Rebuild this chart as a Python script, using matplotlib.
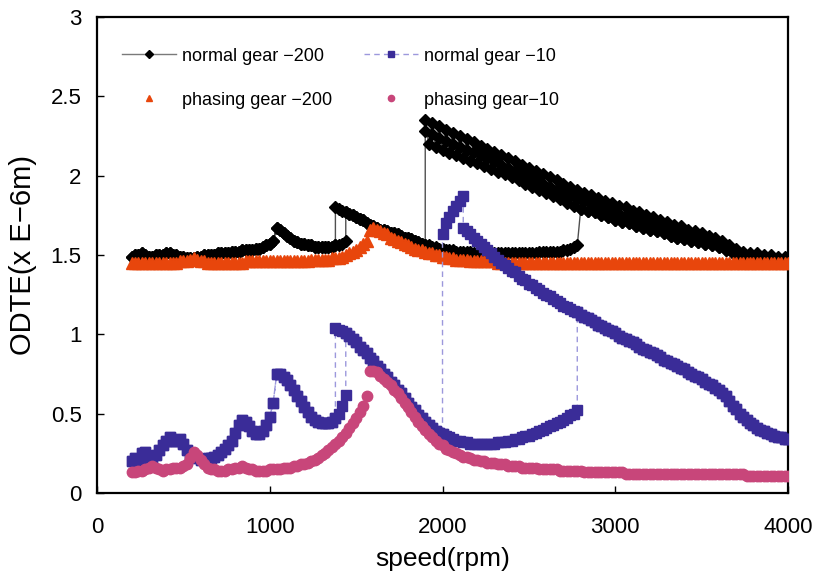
import numpy as np
import matplotlib
matplotlib.use('Agg')
import matplotlib.pyplot as plt

plt.rcParams['font.family'] = ['Liberation Sans', 'DejaVu Sans']

# speed grid (rpm), 20 rpm step
speed = np.arange(200, 4001, 20)

# phasing gear -200 (orange triangles)
phasing_200 = [
    1.45, 1.45, 1.45, 1.45, 1.45,  1.45, 1.45, 1.45, 1.45, 1.45,
    1.45, 1.45, 1.45, 1.45, 1.46,  1.46, 1.46, 1.47, 1.48, 1.47,
    1.46, 1.46, 1.45, 1.45, 1.45,  1.45, 1.45, 1.45, 1.45, 1.45,
    1.45, 1.45, 1.45, 1.46, 1.46,  1.46, 1.46, 1.46, 1.46, 1.46,
    1.46, 1.46, 1.46, 1.46, 1.46,  1.46, 1.46, 1.46, 1.46, 1.46,
    1.46, 1.46, 1.47, 1.47, 1.47,  1.47, 1.47, 1.47, 1.48, 1.48,
    1.48, 1.49, 1.50, 1.51, 1.52,  1.53, 1.55, 1.57, 1.59, 1.66,
    1.67, 1.66, 1.65, 1.64, 1.63,  1.61, 1.60, 1.59, 1.58, 1.57,
    1.56, 1.55, 1.54, 1.53, 1.53,  1.52, 1.51, 1.51, 1.50, 1.50,
    1.49, 1.49, 1.48, 1.48, 1.47,  1.47, 1.47, 1.47, 1.46, 1.46,
    1.46, 1.46, 1.46, 1.46, 1.46,  1.46, 1.45, 1.45, 1.45, 1.45,
    1.45, 1.45, 1.45, 1.45, 1.45,  1.45, 1.45, 1.45, 1.45, 1.45,
    1.45, 1.45, 1.45, 1.45, 1.45,  1.45, 1.45, 1.45, 1.45, 1.45,
    1.45, 1.45, 1.45, 1.45, 1.45,  1.45, 1.45, 1.45, 1.45, 1.45,
    1.45, 1.45, 1.45, 1.45, 1.45,  1.45, 1.45, 1.45, 1.45, 1.45,
    1.45, 1.45, 1.45, 1.45, 1.45,  1.45, 1.45, 1.45, 1.45, 1.45,
    1.45, 1.45, 1.45, 1.45, 1.45,  1.45, 1.45, 1.45, 1.45, 1.45,
    1.45, 1.45, 1.45, 1.45, 1.45,  1.45, 1.45, 1.45, 1.45, 1.45,
    1.45, 1.45, 1.45, 1.45, 1.45,  1.45, 1.45, 1.45, 1.45, 1.45,
    1.45,
]

# phasing gear-10 (pink dots)
phasing_10 = [
    0.13, 0.13, 0.14, 0.14, 0.15,  0.16, 0.17, 0.16, 0.15, 0.14,
    0.15, 0.15, 0.16, 0.16, 0.16,  0.17, 0.18, 0.22, 0.26, 0.24,
    0.21, 0.18, 0.16, 0.15, 0.15,  0.14, 0.14, 0.14, 0.15, 0.15,
    0.16, 0.16, 0.17, 0.16, 0.15,  0.15, 0.14, 0.14, 0.14, 0.14,
    0.15, 0.15, 0.15, 0.15, 0.16,  0.16, 0.16, 0.17, 0.17, 0.18,
    0.18, 0.19, 0.20, 0.21, 0.22,  0.24, 0.25, 0.27, 0.29, 0.31,
    0.33, 0.35, 0.38, 0.41, 0.44,  0.47, 0.51, 0.55, 0.61, 0.77,
    0.77, 0.76, 0.74, 0.72, 0.70,  0.68, 0.65, 0.63, 0.60, 0.57,
    0.54, 0.51, 0.48, 0.45, 0.42,  0.40, 0.37, 0.35, 0.33, 0.31,
    0.30, 0.28, 0.27, 0.26, 0.25,  0.24, 0.23, 0.23, 0.22, 0.21,
    0.21, 0.20, 0.20, 0.19, 0.19,  0.19, 0.18, 0.18, 0.18, 0.17,
    0.17, 0.17, 0.17, 0.16, 0.16,  0.16, 0.16, 0.16, 0.15, 0.15,
    0.15, 0.15, 0.15, 0.15, 0.14,  0.14, 0.14, 0.14, 0.14, 0.14,
    0.14, 0.13, 0.13, 0.13, 0.13,  0.13, 0.13, 0.13, 0.13, 0.13,
    0.13, 0.13, 0.13, 0.12, 0.12,  0.12, 0.12, 0.12, 0.12, 0.12,
    0.12, 0.12, 0.12, 0.12, 0.12,  0.12, 0.12, 0.12, 0.12, 0.12,
    0.12, 0.12, 0.12, 0.12, 0.12,  0.12, 0.12, 0.12, 0.12, 0.12,
    0.12, 0.12, 0.12, 0.12, 0.12,  0.12, 0.12, 0.12, 0.11, 0.11,
    0.11, 0.11, 0.11, 0.11, 0.11,  0.11, 0.11, 0.11, 0.11, 0.11,
    0.11,
]

# normal gear -10 (blue squares), four branches
blue_a_x = np.arange(200, 1441, 20)
blue_a = [
    0.20, 0.22, 0.21, 0.25, 0.26,  0.22, 0.21, 0.24, 0.27, 0.30,
    0.33, 0.35, 0.33, 0.33, 0.34,  0.31, 0.27, 0.24, 0.23, 0.22,
    0.21, 0.21, 0.22, 0.22, 0.23,  0.24, 0.26, 0.28, 0.30, 0.33,
    0.38, 0.43, 0.46, 0.45, 0.42,  0.39, 0.37, 0.37, 0.39, 0.43,
    0.48, 0.57, 0.75, 0.75, 0.73,  0.71, 0.68, 0.65, 0.61, 0.58,
    0.54, 0.51, 0.48, 0.46, 0.45,  0.44, 0.44, 0.44, 0.45, 0.47,
    0.50, 0.55, 0.62,
]
blue_b_x = np.arange(1380, 2781, 20)
blue_b = [
    1.04, 1.03, 1.02, 1.01, 0.99,  0.97, 0.95, 0.92, 0.90, 0.88,
    0.85, 0.83, 0.80, 0.78, 0.75,  0.73, 0.70, 0.68, 0.65, 0.63,
    0.60, 0.57, 0.54, 0.52, 0.49,  0.47, 0.45, 0.43, 0.41, 0.39,
    0.38, 0.37, 0.36, 0.35, 0.34,  0.33, 0.33, 0.32, 0.32, 0.31,
    0.31, 0.31, 0.31, 0.31, 0.31,  0.31, 0.31, 0.32, 0.32, 0.32,
    0.33, 0.33, 0.34, 0.34, 0.35,  0.36, 0.36, 0.37, 0.38, 0.39,
    0.40, 0.41, 0.42, 0.43, 0.44,  0.45, 0.46, 0.47, 0.49, 0.50,
    0.52,
]
blue_c_x = np.arange(2120, 4001, 20)
blue_c = [
    1.67, 1.65, 1.63, 1.61, 1.59,  1.57, 1.55, 1.53, 1.51, 1.49,
    1.47, 1.45, 1.44, 1.42, 1.40,  1.39, 1.37, 1.35, 1.34, 1.32,
    1.31, 1.29, 1.28, 1.26, 1.25,  1.24, 1.22, 1.21, 1.20, 1.18,
    1.17, 1.16, 1.15, 1.14, 1.12,  1.11, 1.10, 1.09, 1.08, 1.06,
    1.05, 1.04, 1.03, 1.02, 1.01,  0.99, 0.98, 0.97, 0.96, 0.95,
    0.94, 0.92, 0.91, 0.90, 0.89,  0.88, 0.87, 0.86, 0.84, 0.83,
    0.82, 0.81, 0.80, 0.79, 0.78,  0.76, 0.75, 0.74, 0.73, 0.72,
    0.70, 0.69, 0.68, 0.66, 0.65,  0.63, 0.61, 0.58, 0.55, 0.53,
    0.50, 0.48, 0.46, 0.44, 0.43,  0.41, 0.40, 0.39, 0.38, 0.37,
    0.36, 0.35, 0.35, 0.34, 0.34,
]
blue_d_x = np.arange(2000, 2121, 20)
blue_d = [1.63, 1.70, 1.74, 1.78, 1.81, 1.84, 1.87]

# normal gear -200 (black diamonds)
black_low_x = np.arange(200, 1441, 20)
black_low = [
    1.49, 1.50, 1.50, 1.51, 1.50,  1.49, 1.49, 1.50, 1.50, 1.50,
    1.51, 1.51, 1.50, 1.50, 1.49,  1.49, 1.48, 1.48, 1.48, 1.49,
    1.49, 1.50, 1.50, 1.50, 1.50,  1.51, 1.51, 1.51, 1.51, 1.52,
    1.52, 1.52, 1.53, 1.53, 1.53,  1.53, 1.54, 1.54, 1.55, 1.56,
    1.57, 1.59, 1.67, 1.66, 1.64,  1.62, 1.61, 1.59, 1.58, 1.57,
    1.57, 1.56, 1.56, 1.55, 1.55,  1.55, 1.55, 1.55, 1.55, 1.56,
    1.56, 1.57, 1.59,
]
black_mid_x = np.arange(1380, 2781, 20)
black_mid = [
    1.80, 1.79, 1.78, 1.77, 1.76,  1.75, 1.74, 1.73, 1.72, 1.70,
    1.69, 1.68, 1.67, 1.66, 1.66,  1.65, 1.64, 1.64, 1.63, 1.62,
    1.61, 1.61, 1.60, 1.59, 1.58,  1.57, 1.56, 1.56, 1.55, 1.55,
    1.54, 1.54, 1.53, 1.53, 1.53,  1.52, 1.52, 1.52, 1.52, 1.52,
    1.51, 1.51, 1.51, 1.51, 1.51,  1.51, 1.51, 1.51, 1.51, 1.51,
    1.51, 1.51, 1.51, 1.51, 1.51,  1.51, 1.51, 1.51, 1.51, 1.52,
    1.52, 1.52, 1.52, 1.52, 1.52,  1.52, 1.53, 1.53, 1.54, 1.55,
    1.56,
]
# upper scattered band: alternating high / low points plus a middle row
band_top_x = np.arange(1900, 3981, 40)
band_top = [
    2.35, 2.33, 2.31, 2.29, 2.27, 2.25, 2.23, 2.21, 2.19, 2.17,
    2.15, 2.13, 2.11, 2.09, 2.07, 2.05, 2.03, 2.01, 1.99, 1.97,
    1.95, 1.93, 1.91, 1.89, 1.88, 1.86, 1.84, 1.83, 1.81, 1.80,
    1.78, 1.77, 1.75, 1.74, 1.72, 1.71, 1.69, 1.68, 1.66, 1.65,
    1.64, 1.62, 1.61, 1.59, 1.56, 1.54, 1.52, 1.51, 1.51, 1.50,
    1.50, 1.49, 1.49,
]
band_mid = [
    2.28, 2.26, 2.24, 2.22, 2.20, 2.18, 2.16, 2.15, 2.13, 2.11,
    2.09, 2.07, 2.05, 2.03, 2.01, 1.99, 1.97, 1.95, 1.93, 1.91,
    1.89, 1.87, 1.85, 1.84, 1.83, 1.81, 1.79, 1.78, 1.76, 1.75,
    1.73, 1.72, 1.71, 1.70, 1.68, 1.67, 1.65, 1.64, 1.63, 1.62,
    1.61, 1.59, 1.58, 1.56, 1.54, 1.52, 1.51, 1.50, 1.50, 1.49,
    1.49, 1.48, 1.48,
]
band_bot_x = np.arange(1920, 4001, 40)
band_bot = [
    2.20, 2.18, 2.16, 2.14, 2.13, 2.11, 2.09, 2.08, 2.06, 2.04,
    2.02, 2.01, 1.99, 1.97, 1.95, 1.93, 1.91, 1.89, 1.87, 1.85,
    1.83, 1.81, 1.79, 1.78, 1.77, 1.75, 1.74, 1.72, 1.71, 1.70,
    1.68, 1.67, 1.66, 1.65, 1.64, 1.62, 1.61, 1.60, 1.59, 1.58,
    1.57, 1.56, 1.55, 1.53, 1.51, 1.50, 1.49, 1.48, 1.48, 1.47,
    1.47, 1.47, 1.47,
]

labels = ['normal gear \u2212200', 'normal gear \u221210',
          'phasing gear \u2212200', 'phasing gear\u221210']

# --- build sweep paths (run-up then run-down) ---
ba, bb, bc, bd = map(np.array, (blue_a, blue_b, blue_c, blue_d))
blue_x = np.concatenate([blue_a_x, blue_b_x[blue_b_x >= 1440], blue_c_x[blue_c_x >= 2780],
                         blue_c_x[::-1], blue_d_x[::-1],
                         blue_b_x[blue_b_x <= 2000][::-1], blue_a_x[blue_a_x <= 1380][::-1]])
blue_y = np.concatenate([ba, bb[blue_b_x >= 1440], bc[blue_c_x >= 2780],
                         bc[::-1], bd[::-1],
                         bb[blue_b_x <= 2000][::-1], ba[blue_a_x <= 1380][::-1]])

kl, km, kt, kb = map(np.array, (black_low, black_mid, band_top, band_bot))
zx = np.concatenate([band_top_x, band_bot_x])
zy = np.concatenate([kt, kb])
order = np.argsort(zx)
zx, zy = zx[order], zy[order]
black_x = np.concatenate([black_low_x, black_mid_x[black_mid_x >= 1440], band_bot_x[band_bot_x >= 2800],
                          zx[::-1], black_mid_x[black_mid_x <= 1900][::-1], black_low_x[black_low_x <= 1380][::-1]])
black_y = np.concatenate([kl, km[black_mid_x >= 1440], kb[band_bot_x >= 2800],
                          zy[::-1], km[black_mid_x <= 1900][::-1], kl[black_low_x <= 1380][::-1]])

fig = plt.figure(figsize=(8.13, 5.74), dpi=100)
ax = fig.add_axes([0.1193, 0.1411, 0.85, 0.8293])

h1, = ax.plot(black_x, black_y, color='#505050', lw=1.0, marker='D', ms=6.5,
              mfc='black', mec='black', zorder=2)
ax.plot(band_top_x, band_mid, ls='none', marker='D', ms=6.5,
        mfc='black', mec='black', zorder=2)
h3, = ax.plot(speed, phasing_200, ls='none', marker='^', ms=8,
              mfc='#e8460c', mec='#e8460c', zorder=3)
h2, = ax.plot(blue_x, blue_y, color='#9c98dc', lw=1, ls=(0, (4, 3)), marker='s', ms=7,
              mfc='#3a2c98', mec='#3a2c98', zorder=4)
h4, = ax.plot(speed, phasing_10, ls='none', marker='o', ms=7.5,
              mfc='#c8467a', mec='#c8467a', zorder=5)

leg = ax.legend([h1, h3, h2, h4], [labels[0], labels[2], labels[1], labels[3]],
                ncol=2, frameon=False, loc='upper left', bbox_to_anchor=(0.012, 0.97),
                fontsize=13, handlelength=3.0, handletextpad=0.35, columnspacing=1.75,
                labelspacing=1.5, markerscale=0.6)
leg.get_lines()[0].set_color('#7a7a7a')

ax.set_xlim(0, 4000)
ax.set_ylim(0, 3)
ax.set_xticks([0, 1000, 2000, 3000, 4000])
ax.set_yticks([0, 0.5, 1, 1.5, 2, 2.5, 3])
ax.set_yticklabels(['0', '0.5', '1', '1.5', '2', '2.5', '3'])
ax.tick_params(direction='in', length=5, labelsize=16, width=1)
ax.tick_params(axis='x', pad=17)
ax.tick_params(axis='y', pad=11)
for s in ax.spines.values():
    s.set_linewidth(1.6)

ax.set_xlabel('speed(rpm)', fontsize=19, labelpad=7)
ax.set_ylabel('ODTE(x E\u22126m)', fontsize=21, labelpad=10)

fig.savefig('out.png', dpi=100)
